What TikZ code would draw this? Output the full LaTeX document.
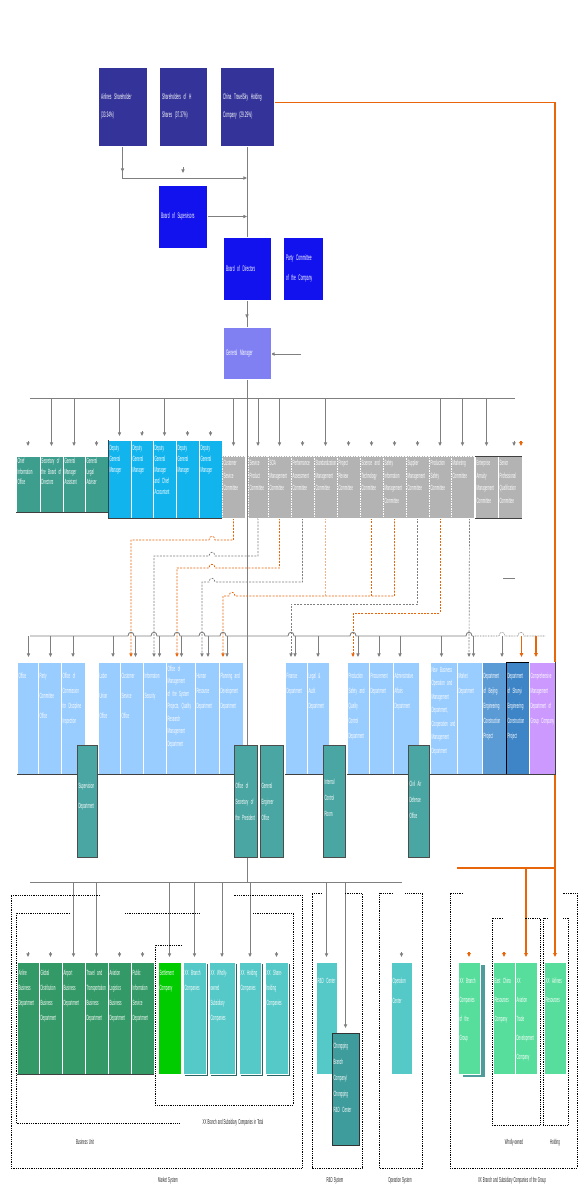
\documentclass[tikz,border=0pt]{standalone}
\usepackage{fontspec}
\setmainfont{Liberation Sans}
\newfontfamily\nf[FakeStretch=0.4]{Liberation Sans}
\usetikzlibrary{arrows.meta}
\pgfdeclarelayer{back}
\pgfdeclarelayer{bg}
\pgfsetlayers{back,bg,main}
\definecolor{navy}{HTML}{333399}
\definecolor{bblue}{HTML}{1212EE}
\definecolor{gmc}{HTML}{8080F2}
\definecolor{teal1}{HTML}{3E9E8E}
\definecolor{cyan1}{HTML}{12B4EE}
\definecolor{grayc}{HTML}{B3B3B3}
\definecolor{lblue}{HTML}{99CCFF}
\definecolor{teal2}{HTML}{4AA6A2}
\definecolor{mblue}{HTML}{5B9BD5}
\definecolor{dblue}{HTML}{3D85C6}
\definecolor{purp}{HTML}{CC99FF}
\definecolor{dgreen}{HTML}{339966}
\definecolor{bgreen}{HTML}{00CC00}
\definecolor{cyan2}{HTML}{55C8C8}
\definecolor{shad}{HTML}{2A6464}
\definecolor{shad2}{HTML}{4E9C9C}
\definecolor{teal3}{HTML}{3F9C9C}
\definecolor{lgreen}{HTML}{57DE9C}
\definecolor{lnc}{HTML}{7F7F7F}
\definecolor{orng}{HTML}{E8650A}
\definecolor{porng}{HTML}{F4B183}
\newcommand\tsp{\spaceskip=1.1pt plus .3pt\relax}
\tikzset{
 every node/.style={inner sep=0pt,outer sep=0pt},
 fb/.style={fill=#1, draw=white, line width=.6pt},
 cbox/.style={fill=grayc, draw=white, line width=.7pt, dash pattern=on 1.5pt off 1pt},
 tb/.style={fill=teal2, draw=black!70, line width=.5pt},
 txt/.style={anchor=north west, align=left, text=white, font=\nf\fontsize{7.5}{#1}\selectfont\tsp},
 ctxt/.style={anchor=west, align=left, text=white, font=\nf\fontsize{8}{#1}\selectfont\tsp},
 lbl/.style={text=black!85, font=\nf\fontsize{7.2}{8}\selectfont\tsp},
 ln/.style={draw=lnc, line width=.9pt},
 ar/.style={ln, -{Triangle[width=3.2pt,length=3.6pt]}},
 ol/.style={draw=orng, line width=1.4pt},
 oar/.style={ol, -{Triangle[width=3.4pt,length=3.8pt]}},
 od/.style={draw=orng, line width=.7pt, dash pattern=on 2pt off 1.3pt},
 odar/.style={od, -{Triangle[width=3.2pt,length=3.6pt]}},
 pd/.style={draw=porng, line width=.7pt, dash pattern=on 2pt off 1.3pt},
 gd/.style={draw=lnc, line width=.7pt, dash pattern=on 2pt off 1.3pt},
 gdar/.style={gd, -{Triangle[width=3.2pt,length=3.6pt]}},
 grp/.style={draw=black, line width=.6pt, dash pattern=on .9pt off .9pt},
 bedge/.style={draw=black!75, line width=.7pt},
}
\newcommand\BX[8]{%
  \pgfmathsetmacro\bw{#4-#2}\pgfmathsetmacro\bh{#5-#3}\pgfmathsetmacro\tw{#4-#2-2}%
  \node[#6, anchor=north west, minimum width=\bw pt, minimum height=\bh pt] (#1) at (#2,#3) {};
  \node[#7, text width=\tw pt] (#1-t) at ({#2+1.5},#3) {#8};
}
\newcommand\BXc[8]{%
  \pgfmathsetmacro\bw{#4-#2}\pgfmathsetmacro\bh{#5-#3}\pgfmathsetmacro\tw{#4-#2-5}%
  \node[#6, anchor=north west, minimum width=\bw pt, minimum height=\bh pt] (#1) at (#2,#3) {};
  \node[#7, text width=\tw pt] (#1-t) at ({#2+3},{(#3+#5)/2}) {#8};
}
\begin{document}
\begin{tikzpicture}[x=1pt,y=-1pt]
\begin{pgfonlayer}{back}
\fill[white] (0,0) rectangle (580,1200);
\end{pgfonlayer}
\useasboundingbox (0,0) rectangle (580,1200);
\coordinate (bar1L) at (30,398); \coordinate (bar1R) at (515,398);
\coordinate (bar2L) at (30,636);
\coordinate (bar3L) at (30,882); \coordinate (bar3R) at (402,882);
\coordinate (gmin) at (301,354);
\coordinate (j1) at (247,178);
\coordinate (oj) at (457,868);

% ---------- top ----------
\BXc{c1}{98}{67}{147}{146}{fb=navy}{ctxt=18}{Airlines Shareholder\\(33.34\%)}
\BXc{c2}{159}{67}{207}{146}{fb=navy}{ctxt=18}{Shareholders of H\\Shares (37.37\%)}
\BXc{c3}{220}{67}{274}{146}{fb=navy}{ctxt=18}{China TravelSky Holding\\Company (29.29\%)}
\BXc{bs}{158}{185}{207}{248}{fb=bblue}{ctxt=10}{Board of Supervisors}
\BXc{bd}{223}{237}{271}{300}{fb=bblue}{ctxt=10}{Board of Directors}
\BXc{pc}{283}{237}{323}{300}{fb=bblue}{ctxt=20}{Party Committee\\of the Company}
\BXc{gm}{223}{327}{271}{379}{fb=gmc}{ctxt=10}{General Manager}

% ---------- row 1 ----------
\BX{t1}{16}{456}{40}{512}{fb=teal1}{txt=10.5, yshift=-2.5pt}{Chief Information\\Office}
\BX{t2}{40}{456}{63}{512}{fb=teal1}{txt=10.5, yshift=-2.5pt}{Secretary of\\the Board of\\Directors}
\BX{t3}{63}{456}{85}{512}{fb=teal1}{txt=10.5, yshift=-2.5pt}{General\\Manager\\Assistant}
\BX{t4}{85}{456}{108}{512}{fb=teal1}{txt=10.5, yshift=-2.5pt}{General\\Legal\\Adviser}
\BX{b1}{108}{440}{131}{518}{fb=cyan1}{txt=11, yshift=-5.5pt}{Deputy\\General\\Manager}
\BX{b2}{131}{440}{153}{518}{fb=cyan1}{txt=11, yshift=-5.5pt}{Deputy\\General\\Manager}
\BX{b3}{153}{440}{176}{518}{fb=cyan1}{txt=11, yshift=-5.5pt}{Deputy\\General\\Manager\\and Chief\\Accountant}
\BX{b4}{176}{440}{199}{518}{fb=cyan1}{txt=11, yshift=-5.5pt}{Deputy\\General\\Manager}
\BX{b5}{199}{440}{222}{518}{fb=cyan1}{txt=11, yshift=-5.5pt}{Deputy\\General\\Manager}
\BX{g1}{222}{456}{245}{518}{cbox}{txt=12.5, yshift=-4.5pt}{Customer\\Service\\Committee}
\BX{g2}{248}{456}{268}{518}{cbox}{txt=12.5, yshift=-4.5pt}{Service\\Product\\Committee}
\BX{g3}{268}{456}{291}{518}{cbox}{txt=12.5, yshift=-4.5pt}{SOA\\Management\\Committee}
\BX{g4}{291}{456}{314}{518}{cbox}{txt=12.5, yshift=-4.5pt}{Performance\\Assessment\\Committee}
\BX{g5}{314}{456}{337}{518}{cbox}{txt=12.5, yshift=-4.5pt}{Standardization\\Management\\Committee}
\BX{g6}{337}{456}{360}{518}{cbox}{txt=12.5, yshift=-4.5pt}{Project\\Review\\Committee}
\BX{g7}{360}{456}{383}{518}{cbox}{txt=12.5, yshift=-4.5pt}{Science and\\Technology\\Committee}
\BX{g8}{383}{456}{406}{518}{cbox}{txt=12.5, yshift=-4.5pt}{Safety\\Information\\Management\\Committee}
\BX{g9}{406}{456}{429}{518}{cbox}{txt=12.5, yshift=-4.5pt}{Supplier\\Management\\Committee}
\BX{g10}{429}{456}{451}{518}{cbox}{txt=12.5, yshift=-4.5pt}{Production\\Safety\\Committee}
\BX{g11}{451}{456}{474}{518}{cbox}{txt=12.5, yshift=-4.5pt}{Marketing\\Committee}
\BX{s1}{475}{456}{498}{518}{fb=grayc}{txt=12.5, yshift=-4.5pt}{Enterprise\\Annuity\\Management\\Committee}
\BX{s2}{498}{456}{522}{518}{fb=grayc}{txt=12.5, yshift=-4.5pt}{Senior\\Professional\\Qualification\\Committee}
\draw[bedge] (t1.south west) -- (t4.south east);
\draw[bedge] (b1.north west) -- (b1.south west) -- (b5.south east);
\draw[bedge] (s1.north west) -- (s2.north east);
\draw[bedge] (s1.south west) -- (s2.south east);

% ---------- row 2 ----------
\BX{r1}{17}{662}{38}{774}{fb=lblue}{txt=15, yshift=-11pt}{Office}
\BX{r2}{38}{662}{61}{774}{fb=lblue}{txt=20, yshift=-11pt}{Party\\Committee\\Office}
\BX{r3}{61}{662}{85}{774}{fb=lblue}{txt=15, yshift=-11pt}{Office of\\Commission\\for Discipline\\Inspection}
\BX{r4}{98}{662}{120}{774}{fb=lblue}{txt=20, yshift=-11pt}{Labor\\Union\\Office}
\BX{r5}{120}{662}{143}{774}{fb=lblue}{txt=20, yshift=-11pt}{Customer\\Service\\Office}
\BX{r6}{143}{662}{166}{774}{fb=lblue}{txt=20, yshift=-11pt}{Information\\Security}
\BX{r7}{166}{662}{195}{774}{fb=lblue}{txt=12.5, yshift=-4pt}{Office of\\Management\\of the System\\Projects, Quality\\Research\\Management\\Department}
\BX{r8}{195}{662}{219}{774}{fb=lblue}{txt=15, yshift=-11pt}{Human\\Resource\\Department}
\BX{r9}{219}{662}{243}{774}{fb=lblue}{txt=15, yshift=-11pt}{Planning and\\Development\\Department}
\BX{r10}{285}{662}{307}{774}{fb=lblue}{txt=15, yshift=-11pt}{Finance\\Department}
\BX{r11}{307}{662}{329}{774}{fb=lblue}{txt=15, yshift=-11pt}{Legal \&\\Audit\\Department}
\BX{r12}{347}{662}{369}{774}{fb=lblue}{txt=15, yshift=-11pt}{Production\\Safety and\\Quality\\Control\\Department}
\BX{r13}{369}{662}{393}{774}{fb=lblue}{txt=15, yshift=-11pt}{Procurement\\Department}
\BX{r14}{393}{662}{419}{774}{fb=lblue}{txt=15, yshift=-11pt}{Administrative\\Affairs\\Department}
\BX{r15}{430}{662}{457}{774}{fb=lblue}{txt=13.5, yshift=-5pt}{New Business\\Operation and\\Management\\Department,\\Cooperation and\\Management\\Department}
\BX{r16}{457}{662}{482}{774}{fb=lblue}{txt=15, yshift=-11pt}{Market\\Department}
\BX{d1}{482}{662}{506}{774}{fb=mblue}{txt=15, yshift=-11pt}{Department\\of Beijing\\Engineering\\Construction\\Project}
\BX{d2}{506}{662}{529}{774}{fill=dblue, draw=black, line width=.6pt}{txt=15, yshift=-11pt}{Department\\of Shunyi\\Engineering\\Construction\\Project}
\BX{p1}{529}{662}{555}{774}{fb=purp}{txt=15, yshift=-11pt}{Comprehensive\\Management\\Department of\\Group Company}
\draw[bedge] (r1.south west) -- (r3.south east);
\draw[bedge] (r4.south west) -- (r9.south east);
\draw[bedge] (r10.south west) -- (r11.south east);
\draw[bedge] (r12.south west) -- (r14.south east);
\draw[bedge] (r15.south west) -- (p1.south east) -- (p1.north east);
\BX{sv}{77}{745}{97}{857}{tb}{txt=20, yshift=-38pt}{Supervision\\Department}
\BX{os}{234}{745}{257}{857}{tb}{txt=16, yshift=-38pt}{Office of\\Secretary of\\the President}
\BX{ge}{260}{745}{283}{857}{tb}{txt=16, yshift=-38pt}{General\\Engineer\\Office}
\BX{ic}{323}{745}{345}{857}{tb}{txt=16, yshift=-34pt}{Internal\\Control\\Room}
\BX{ca}{408}{745}{429}{857}{tb}{txt=16, yshift=-36pt}{Civil Air\\Defense\\Office}

% ---------- bottom ----------
\BX{m1}{17}{962}{39}{1074}{fb=dgreen}{txt=15, yshift=-8.5pt}{Airline\\Business\\Department}
\BX{m2}{39}{962}{62}{1074}{fb=dgreen}{txt=15, yshift=-8.5pt}{Global\\Distribution\\Business\\Department}
\BX{m3}{62}{962}{85}{1074}{fb=dgreen}{txt=15, yshift=-8.5pt}{Airport\\Business\\Department}
\BX{m4}{85}{962}{108}{1074}{fb=dgreen}{txt=15, yshift=-8.5pt}{Travel and\\Transportation\\Business\\Department}
\BX{m5}{108}{962}{131}{1074}{fb=dgreen}{txt=15, yshift=-8.5pt}{Aviation\\Logistics\\Business\\Department}
\BX{m6}{131}{962}{154}{1074}{fb=dgreen}{txt=15, yshift=-8.5pt}{Public\\Information\\Service\\Department}
\draw[bedge] (m1.south west) -- (m6.south east);
\BX{m7}{158}{962}{181}{1074}{fb=bgreen}{txt=15, yshift=-8.5pt}{Settlement\\Company}
\fill[shad] (185,964) rectangle (208,1076);
\fill[shad] (211,964) rectangle (237,1076);
\fill[shad] (241,964) rectangle (263,1076);
\fill[shad] (267,964) rectangle (290,1076);
\BX{m8}{183}{962}{206}{1074}{fb=cyan2}{txt=15, yshift=-8.5pt}{XX Branch\\Companies}
\BX{m9}{209}{962}{235}{1074}{fb=cyan2}{txt=15, yshift=-8.5pt}{XX Wholly-owned\\Subsidiary\\Companies}
\BX{m10}{239}{962}{261}{1074}{fb=cyan2}{txt=15, yshift=-8.5pt}{XX Holding\\Companies}
\BX{m11}{265}{962}{288}{1074}{fb=cyan2}{txt=15, yshift=-8.5pt}{XX Share-holding\\Companies}
\BX{rd}{316}{962}{337}{1074}{fb=cyan2}{txt=15, yshift=-16pt}{R\&D Center}
\BX{cq}{332}{1033}{359}{1145}{fill=teal3, draw=black!80, line width=.6pt}{txt=16, yshift=-10pt}{Chongqing\\Branch\\Company/\\Chongqing\\R\&D Center}
\BX{oc}{391}{962}{412}{1074}{fb=cyan2}{txt=20, yshift=-16pt}{Operation\\Center}
\fill[shad2] (463,965) rectangle (485,1077);
\BX{gb}{458}{962}{480}{1074}{fb=lgreen}{txt=19, yshift=-16pt}{XX Branch\\Companies\\of the Group}
\BX{ec}{493}{962}{515}{1074}{fb=lgreen}{txt=19, yshift=-16pt}{East China\\Resources\\Company}
\BX{atd}{515}{962}{537}{1074}{fb=lgreen}{txt=19, yshift=-16pt}{XX\\Aviation\\Trade\\Development\\Company}
\BX{xar}{544}{962}{566}{1074}{fb=lgreen}{txt=19, yshift=-16pt}{XX Airlines\\Resources}

% ---------- group frames ----------
\draw[grp] (100,895) -- (11,895) -- (11,1168) -- (302,1168) -- (302,895) -- (233,895);
\draw[grp] (70,913) -- (16,913) -- (16,1123) -- (180,1123);
\draw[grp] (125,913) -- (200,913);
\draw[grp] (182,945) -- (155,945) -- (155,1105) -- (293,1105) -- (293,913) -- (253,913);
\draw[grp] (322,893) -- (312,893) -- (312,1168) -- (362,1168) -- (362,893) -- (345,893);
\draw[grp] (393,893) -- (379,893) -- (379,1168) -- (422,1168) -- (422,893) -- (405,893);
\draw[grp] (463,893) -- (450,893) -- (450,1168) -- (577,1168) -- (577,893) -- (563,893);
\draw[grp] (503,918) -- (492,918) -- (492,1125) -- (540,1125) -- (540,918) -- (525,918);
\draw[grp] (548,918) -- (543,918) -- (543,1125) -- (568,1125) -- (568,918) -- (563,918);
\node[lbl] (lbu) at (85,1142) {Business Unit};
\node[lbl] (lbs) at (233,1123) {XX Branch and Subsidiary Companies in Total};
\node[lbl] (lms) at (168,1181) {Market System};
\node[lbl] (lrd) at (335,1181) {R\&D System};
\node[lbl] (los) at (400,1181) {Operation System};
\node[lbl] (lgr) at (512,1181) {XX Branch and Subsidiary Companies of the Group};
\node[lbl] (lwo) at (514,1143) {Wholly-owned};
\node[lbl] (lho) at (555,1143) {Holding};

% ---------- connectors ----------
\begin{pgfonlayer}{bg}
\draw[ar] (c1.south) |- (j1);
\draw[ar] ([yshift=-20pt]c1.south) -- ([yshift=-26pt]c1.south);
\draw[ar] ([yshift=-21pt]c2.south) -- ([yshift=-27pt]c2.south);
\draw[ln] (c3.south) -- (bd.north);
\draw[ar] (bs.east) -- (bs.east -| c3.south);
\draw[ln] (bd.south) -- (gm.north);
\draw[ar] (bd.south) -- ([yshift=9pt]gm.north);
\draw[ar] (gmin) -- (gmin -| gm.east);
\draw[ln] (gm.south) -- (gm.south |- bar3L);
% orange
\draw[oar] ([yshift=4pt]c3.east) -| ([yshift=5pt]xar.north);
\draw[ol] (oj) -- (oj -| xar.north);
\draw[oar] (atd.north |- oj) -- ([yshift=5pt]atd.north);
\draw[oar] ([yshift=10pt]gb.north) -- ([yshift=5pt]gb.north);
\draw[oar] ([yshift=10pt]ec.north) -- ([yshift=5pt]ec.north);
% bar 1
\draw[ln] (bar1L) -- (bar1R);
\foreach \n/\s in {t2/10pt,t3/10pt,b1/4pt,b3/4pt,g1/10pt,g2/10pt,g3/10pt,g5/10pt,g10/10pt,g11/10pt,s1/10pt}
  \draw[ar] (\n.north |- bar1L) -- ([yshift=\s]\n.north);
\foreach \n/\s in {t1/10pt,t4/10pt,b2/4pt,b4/4pt,b5/4pt,g4/10pt,g6/10pt,g7/10pt,g8/10pt,g9/10pt}
  \draw[ar] ([yshift=\s+5pt]\n.north) -- ([yshift=\s]\n.north);
\draw[ar] ([xshift=4pt,yshift=15pt]s2.north) -- ([xshift=4pt,yshift=10pt]s2.north);
\draw[oar] ([xshift=11pt,yshift=15pt]s2.north) -- ([xshift=11pt,yshift=10pt]s2.north);
% dashed links
\draw[odar] (g1.south) |- (215,540) .. controls (215,535) and (209,535) .. (209,540) -- (131,540) -- (131,657);
\draw[gdar] (g2.south) |- (215,556) .. controls (215,551) and (209,551) .. (209,556) -- (154,556) -- (154,657);
\draw[odar] (g3.south) |- (215,568) .. controls (215,563) and (209,563) .. (209,568) -- (177,568) -- (177,657);
\draw[gdar] (g4.south) |- (215,582) .. controls (215,577) and (209,577) .. (209,582) -- (202,582) -- (202,657);
\draw[odar] (g8.south) |- (235,596) .. controls (235,591) and (229,591) .. (229,596) -- (223,596) -- (223,657);
\draw[od] (g7.south) -- (g7.south |- 0,596);
\draw[pd] (g5.south) -- (g5.south |- 0,596);
\draw[gdar] (g9.south) |- (291,604) -- (291,657);
\draw[odar] (g10.south) |- (353,613) -- (353,657);
\draw[gdar] ([xshift=7pt]g11.south) -- (469,657);
\draw[ln] (503,578) -- (515,578);
% bar 2
\draw[ln] (bar2L) -- (128,636) .. controls (128,631) and (134,631) .. (134,636)
  -- (151,636) .. controls (151,631) and (157,631) .. (157,636)
  -- (174,636) .. controls (174,631) and (180,631) .. (180,636)
  -- (199,636) .. controls (199,631) and (205,631) .. (205,636)
  -- (220,636) .. controls (220,631) and (226,631) .. (226,636)
  -- (288,636) .. controls (288,631) and (294,631) .. (294,636)
  -- (350,636) .. controls (350,631) and (356,631) .. (356,636)
  -- (466,636) .. controls (466,631) and (472,631) .. (472,636);
\draw[draw=lnc, line width=.6pt, dash pattern=on .8pt off .8pt] (472,636) -- (499,636)
  .. controls (499,631) and (505,631) .. (505,636) -- (518,636)
  .. controls (518,631) and (524,631) .. (524,636) -- (545,636);
\foreach \n/\d in {r1/1pt,r2/1pt,r3/0pt,r4/4pt,r5/4pt,r6/5pt,r7/1pt,r8/1pt,r9/-4pt,r10/-1pt,r11/0pt,r12/0pt,r13/-2pt,r14/-6pt,r15/-2pt,r16/4pt,d1/8pt}
  \draw[ar] ([xshift=\d,yshift=26pt]\n.north) -- ([xshift=\d,yshift=5pt]\n.north);
\draw[oar] ([xshift=4pt,yshift=26pt]d2.north) -- ([xshift=4pt,yshift=5pt]d2.north);
\draw[oar] ([xshift=-6pt,yshift=26pt]p1.north) -- ([xshift=-6pt,yshift=5pt]p1.north);
% bar 3
\draw[ln] (bar3L) -- (bar3R);
\foreach \n in {m3,m4,m7,m8,m9,m10,rd,cq}
  \draw[ar] (\n.north |- bar3L) -- ([yshift=5pt]\n.north);
\foreach \n in {m1,m2,m5,m6,m11,oc}
  \draw[ar] ([yshift=10pt]\n.north) -- ([yshift=5pt]\n.north);
\end{pgfonlayer}
\end{tikzpicture}
\end{document}
